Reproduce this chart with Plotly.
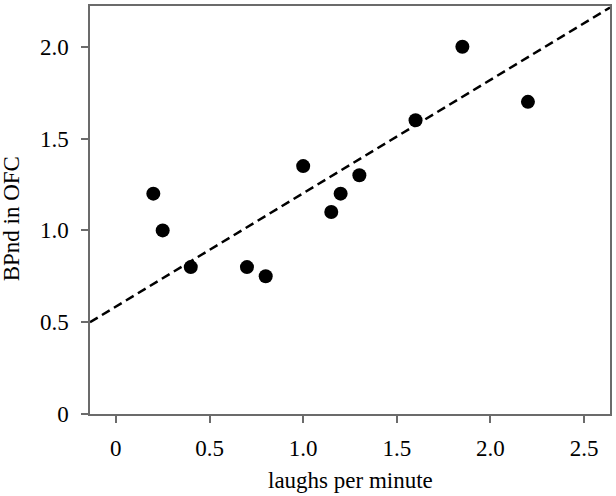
import plotly.graph_objects as go

# Data
laughs_per_minute = [0.2, 0.25, 0.4, 0.7, 0.8, 1.0, 1.15, 1.2, 1.3, 1.6, 1.85, 2.2]
bpnd_ofc = [1.2, 1.0, 0.8, 0.8, 0.75, 1.35, 1.1, 1.2, 1.3, 1.6, 2.0, 1.7]

fit_slope = 0.6175
fit_intercept = 0.585

x_ticks = [0, 0.5, 1.0, 1.5, 2.0, 2.5]
x_tick_labels = ["0", "0.5", "1.0", "1.5", "2.0", "2.5"]
y_ticks = [0, 0.5, 1.0, 1.5, 2.0]
y_tick_labels = ["0", "0.5", "1.0", "1.5", "2.0"]

x_range = [-0.138, 2.638]
y_range = [0, 2.222]

line_x = x_range
line_y = [fit_intercept + fit_slope * v for v in line_x]

font_family = "Liberation Serif, Times New Roman, serif"
axis_color = "#6b6b6b"

fig = go.Figure()
fig.add_trace(go.Scatter(
    x=line_x, y=line_y, mode="lines",
    line=dict(color="black", width=2.5, dash="9px,5px"),
    hoverinfo="skip", showlegend=False,
))
fig.add_trace(go.Scatter(
    x=laughs_per_minute, y=bpnd_ofc, mode="markers",
    marker=dict(color="black", size=14, line=dict(width=0)),
    showlegend=False,
))

axis_common = dict(
    showgrid=False, zeroline=False,
    showline=True, linecolor=axis_color, linewidth=1.5,
    mirror=True, ticks="outside", ticklen=7, tickwidth=1.5, tickcolor=axis_color,
    tickfont=dict(family=font_family, size=23, color="black"),
)

fig.update_xaxes(range=x_range, tickvals=x_ticks, ticktext=x_tick_labels,
                 ticklabelstandoff=6, **axis_common)
fig.update_yaxes(range=y_range, tickvals=y_ticks, ticktext=y_tick_labels,
                 ticklabelstandoff=8, **axis_common)

fig.add_annotation(text="laughs per minute", xref="paper", yref="paper",
                   x=0.5, y=(414 - 480) / 408, xanchor="center", yanchor="middle",
                   showarrow=False, font=dict(family=font_family, size=23, color="black"))
fig.add_annotation(text="BPnd in OFC", xref="paper", yref="paper",
                   x=(12 - 90) / 522, y=(414 - 219) / 408, xanchor="center", yanchor="middle",
                   textangle=-90, showarrow=False,
                   font=dict(family=font_family, size=23, color="black"))

fig.update_layout(
    width=616, height=496,
    margin=dict(l=90, r=4, t=6, b=82),
    paper_bgcolor="white", plot_bgcolor="white",
    font=dict(family=font_family, size=23, color="black"),
)

fig.write_html(
    "out.html",
    config={"displayModeBar": False},
    post_script="document.body.style.margin='0';document.body.style.overflow='hidden';",
)
